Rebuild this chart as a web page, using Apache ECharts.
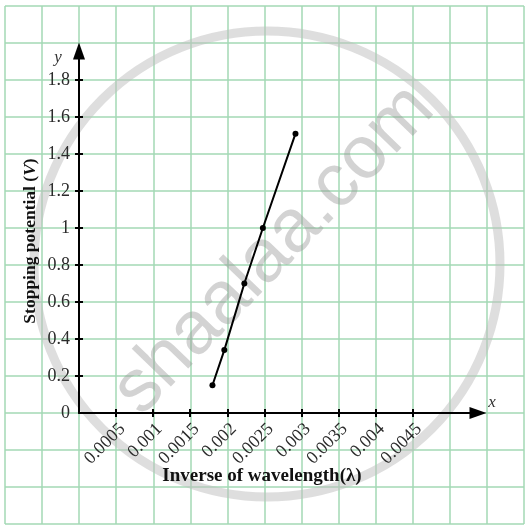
<!DOCTYPE html>
<html>
<head>
<meta charset="utf-8">
<script src="https://cdn.jsdelivr.net/npm/echarts@6/dist/echarts.min.js"></script>
<style>
html, body { margin: 0; padding: 0; background: #fff; }
#chart { width: 530px; height: 527px; }
</style>
</head>
<body>
<div id="chart"></div>
<script>
const invWavelength = [0.0018, 0.00196, 0.00223, 0.00248, 0.00292]
const stoppingPotential = [0.15, 0.34, 0.70, 1.0, 1.51]
const xTicks = [0.0005, 0.001, 0.0015, 0.002, 0.0025, 0.003, 0.0035, 0.004, 0.0045]
const yTicks = [0.2, 0.4, 0.6, 0.8, 1, 1.2, 1.4, 1.6, 1.8]
const yLabels = [0, 0.2, 0.4, 0.6, 0.8, 1, 1.2, 1.4, 1.6, 1.8]

const serif = '"Liberation Serif", "DejaVu Serif", serif'
const gridGreen = '#a3d9b5'

let points = []
for (let i in invWavelength) {
  points.push([invWavelength[i], stoppingPotential[i]])
}

// background graph paper: 14 x 14 cells
const paperX = {gridIndex: 0, type: 'value', min: 0, max: 14, interval: 1,
  axisLine: {show: false}, axisTick: {show: false}, axisLabel: {show: false},
  splitLine: {show: true, lineStyle: {color: gridGreen, width: 1.5}}}
const paperY = Object.assign({}, paperX)

const axisBlack = {color: '#000', width: 2}
const labelStyle = {fontFamily: serif, fontSize: 18, color: '#2b2b2b'}

const option = {
  animation: false,
  grid: [
    {left: 5, top: 6, width: 519, height: 518},
    {left: 79, top: 51, width: 399, height: 362}
  ],
  xAxis: [
    paperX,
    {
      gridIndex: 1, type: 'value', min: 0, max: 0.0053817, position: 'bottom', z: 3,
      axisLine: {show: true, onZero: false, lineStyle: axisBlack,
        symbol: ['none', 'triangle'], symbolSize: [12, 17]},
      axisTick: {show: true, customValues: xTicks, length: 4, lineStyle: axisBlack},
      axisLabel: Object.assign({customValues: xTicks, rotate: 45, margin: 7,
        align: 'right', verticalAlign: 'top',
        formatter: v => String(v)}, labelStyle),
      splitLine: {show: false}
    },
    {
      gridIndex: 1, type: 'value', min: 0, max: 0.0053817, position: 'bottom', z: 3,
      axisLine: {show: false, onZero: false},
      axisTick: {show: true, inside: true, customValues: xTicks, length: 4, lineStyle: axisBlack},
      axisLabel: {show: false},
      splitLine: {show: false}
    }
  ],
  yAxis: [
    paperY,
    {
      gridIndex: 1, type: 'value', min: 0, max: 1.9568, position: 'left', z: 3,
      axisLine: {show: true, onZero: false, lineStyle: axisBlack,
        symbol: ['none', 'triangle'], symbolSize: [12, 17]},
      axisTick: {show: true, customValues: yTicks, length: 4, lineStyle: axisBlack},
      axisLabel: Object.assign({customValues: yLabels, margin: 9,
        formatter: v => String(v)}, labelStyle),
      splitLine: {show: false}
    },
    {
      gridIndex: 1, type: 'value', min: 0, max: 1.9568, position: 'left', z: 3,
      axisLine: {show: false, onZero: false},
      axisTick: {show: true, inside: true, customValues: yTicks, length: 4, lineStyle: axisBlack},
      axisLabel: {show: false},
      splitLine: {show: false}
    }
  ],
  graphic: [
    // watermark
    {
      type: 'circle', z: 1, silent: true,
      shape: {cx: 267, cy: 264, r: 233},
      style: {fill: 'none', stroke: 'rgba(190,190,190,0.5)', lineWidth: 9}
    },
    {
      type: 'text', z: 1, silent: true,
      x: 274, y: 250, rotation: 46 * Math.PI / 180,
      style: {text: 'shaalaa.com', fontFamily: '"Liberation Sans", Arial, sans-serif',
        fontSize: 75, fill: 'rgba(150,150,150,0.42)', align: 'center', verticalAlign: 'middle'}
    },
    // axis letters and titles
    {
      type: 'text', z: 4, x: 58, y: 58,
      style: {text: 'y', font: 'italic 17px ' + serif, fill: '#333', align: 'center', verticalAlign: 'middle'}
    },
    {
      type: 'text', z: 4, x: 492, y: 403,
      style: {text: 'x', font: 'italic 17px ' + serif, fill: '#333', align: 'center', verticalAlign: 'middle'}
    },
    {
      type: 'text', z: 4, x: 262, y: 476,
      style: {text: 'Inverse of wavelength(λ)', font: 'bold 19px ' + serif, fill: '#111',
        align: 'center', verticalAlign: 'middle'}
    },
    {
      type: 'text', z: 4, x: 30, y: 241, rotation: Math.PI / 2,
      style: {
        text: '{b|Stopping potential (}{i|V}{b|)}',
        align: 'center', verticalAlign: 'middle',
        rich: {
          b: {fontFamily: serif, fontWeight: 'bold', fontSize: 17.5, fill: '#111'},
          i: {fontFamily: serif, fontWeight: 'bold', fontStyle: 'italic', fontSize: 17.5, fill: '#111'}
        }
      }
    }
  ],
  series: [
    {
      type: 'line',
      xAxisIndex: 1,
      yAxisIndex: 1,
      data: points,
      z: 5,
      symbol: 'circle',
      symbolSize: 6,
      lineStyle: {color: '#000', width: 2},
      itemStyle: {color: '#000'}
    }
  ]
}

const myChart = echarts.init(document.getElementById('chart'))
myChart.setOption(option)
</script>
</body>
</html>
